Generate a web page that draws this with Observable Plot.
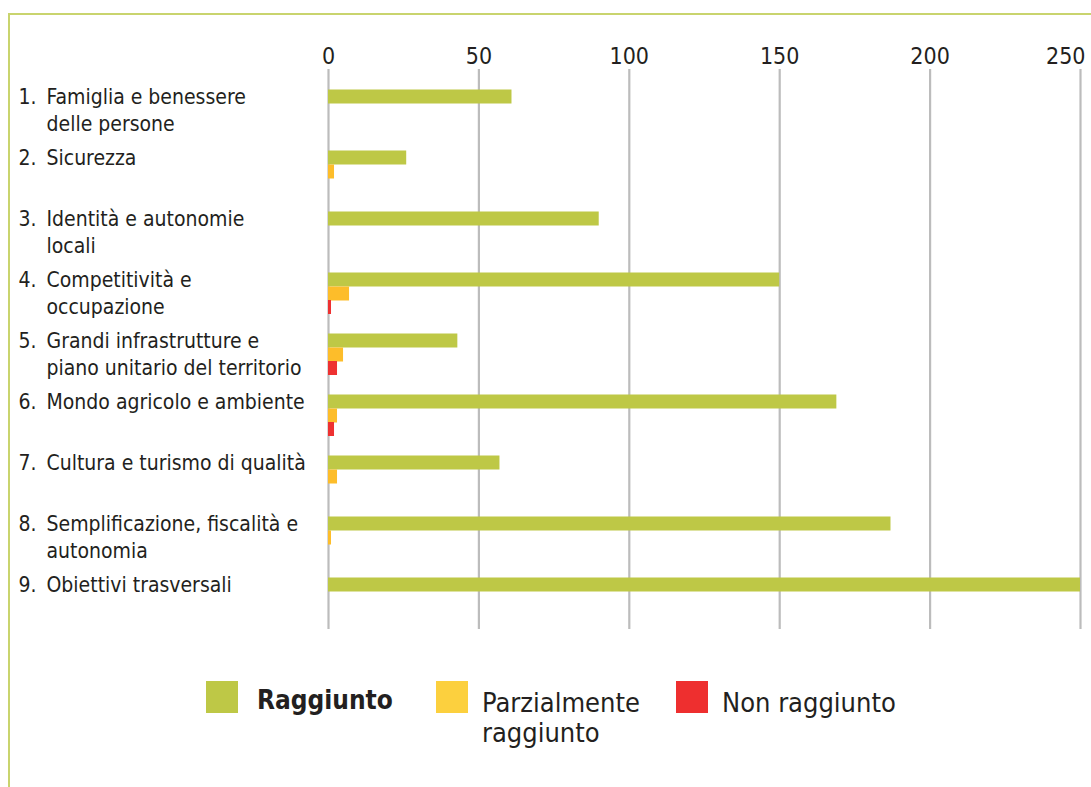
<!DOCTYPE html>
<html>
<head>
<meta charset="utf-8">
<script src="https://cdn.jsdelivr.net/npm/d3@7"></script>
<script src="https://cdn.jsdelivr.net/npm/@observablehq/plot@0.6"></script>
<style>
  html, body { margin: 0; padding: 0; background: #fff; }
  body { width: 1091px; height: 787px; overflow: hidden; position: relative;
         font-family: "DejaVu Sans Condensed", "DejaVu Sans", sans-serif; font-stretch: condensed; color: #231f20; }
  #frame { position: absolute; left: 8px; top: 13px; width: 1100px; height: 800px;
           border-left: 2px solid #c9d46e; border-top: 2px solid #c9d46e; box-sizing: border-box; }
  #chart { position: relative; }
  #legend { position: relative; height: 137px; }
  .sw { position: absolute; width: 32px; height: 32px; }
  .lt { position: absolute; font-size: 27px; line-height: 30px; white-space: nowrap; }
</style>
</head>
<body>
<div id="frame"></div>
<div id="chart"></div>
<div id="legend"></div>
<script>
const numbers = ["1.", "2.", "3.", "4.", "5.", "6.", "7.", "8.", "9."];
const categories = [
  "Famiglia e benessere\ndelle persone",
  "Sicurezza",
  "Identità e autonomie\nlocali",
  "Competitività e\noccupazione",
  "Grandi infrastrutture e\npiano unitario del territorio",
  "Mondo agricolo e ambiente",
  "Cultura e turismo di qualità",
  "Semplificazione, fiscalità e\nautonomia",
  "Obiettivi trasversali"
];
const seriesNames = ["Raggiunto", "Parzialmente\nraggiunto", "Non raggiunto"];
const raggiunto = [61, 26, 90, 150, 43, 169, 57, 187, 250];
const parzialmente = [0, 2, 0, 7, 5, 3, 3, 1, 0];
const nonRaggiunto = [0, 0, 0, 1, 3, 2, 0, 0, 0];
const xTicks = [0, 50, 100, 150, 200, 250];
const colors = ["#bec846", "#fdbd2a", "#ee3131"];
const legendColors = ["#bec846", "#fcd03e", "#ee2f2f"];

const rows = (vals) => categories.map((c, i) => ({ cat: c, num: numbers[i], v: vals[i] }));
const dR = rows(raggiunto), dP = rows(parzialmente), dN = rows(nonRaggiunto);

const font = '"DejaVu Sans Condensed", "DejaVu Sans", sans-serif';
const lastTick = xTicks[xTicks.length - 1];

const chart = Plot.plot({
  width: 1091,
  height: 650,
  marginLeft: 328,
  marginRight: 11,
  marginTop: 69,
  marginBottom: 21,
  style: { fontFamily: font, color: "#231f20", background: "transparent", overflow: "visible" },
  x: { domain: [0, 250], ticks: xTicks, label: null },
  y: { domain: categories, paddingInner: 0, paddingOuter: 0.09, axis: null },
  marks: [
    Plot.gridX(xTicks, { stroke: "#bcbcbc", strokeOpacity: 1, strokeWidth: 2.2 }),
    Plot.axisX(xTicks.slice(0, -1), { anchor: "top", label: null, tickSize: 0, tickPadding: 6, fontSize: 23, fill: "#231f20" }),
    Plot.axisX([lastTick], { anchor: "top", label: null, tickSize: 0, tickPadding: 6, fontSize: 23, fill: "#231f20", textAnchor: "end", dx: 5 }),
    Plot.barX(dR, { x: "v", y: "cat", fill: colors[0], insetTop: 14.5, insetBottom: 32.5 }),
    Plot.barX(dP.filter(d => d.v > 0), { x: "v", y: "cat", fill: colors[1], insetTop: 28.5, insetBottom: 18.5 }),
    Plot.barX(dN.filter(d => d.v > 0), { x: "v", y: "cat", fill: colors[2], insetTop: 42, insetBottom: 5 }),
    Plot.text(dR, { y: "cat", text: "num", frameAnchor: "left", dx: 18 - 328, dy: -21, textAnchor: "start", lineAnchor: "top", fontSize: 21, lineHeight: 1.29, fill: "#231f20" }),
    Plot.text(dR, { y: "cat", text: "cat", frameAnchor: "left", dx: 46 - 328, dy: -21, textAnchor: "start", lineAnchor: "top", fontSize: 21, lineHeight: 1.29, fill: "#231f20" })
  ]
});
document.getElementById("chart").appendChild(chart);

const legend = document.getElementById("legend");
const lx = [206, 436, 676];
const tx = [257, 482, 722];
seriesNames.forEach((name, i) => {
  const sw = document.createElement("div");
  sw.className = "sw";
  sw.style.left = lx[i] + "px";
  sw.style.top = "31px";
  sw.style.background = legendColors[i];
  legend.appendChild(sw);
  const t = document.createElement("div");
  t.className = "lt";
  t.style.left = tx[i] + "px";
  t.style.top = (i === 0 ? 35 : 38) + "px";
  if (i === 0) { t.style.fontWeight = "bold"; t.style.fontSize = "26px"; }
  t.innerHTML = name.replace("\n", "<br>");
  legend.appendChild(t);
});
</script>
</body>
</html>
